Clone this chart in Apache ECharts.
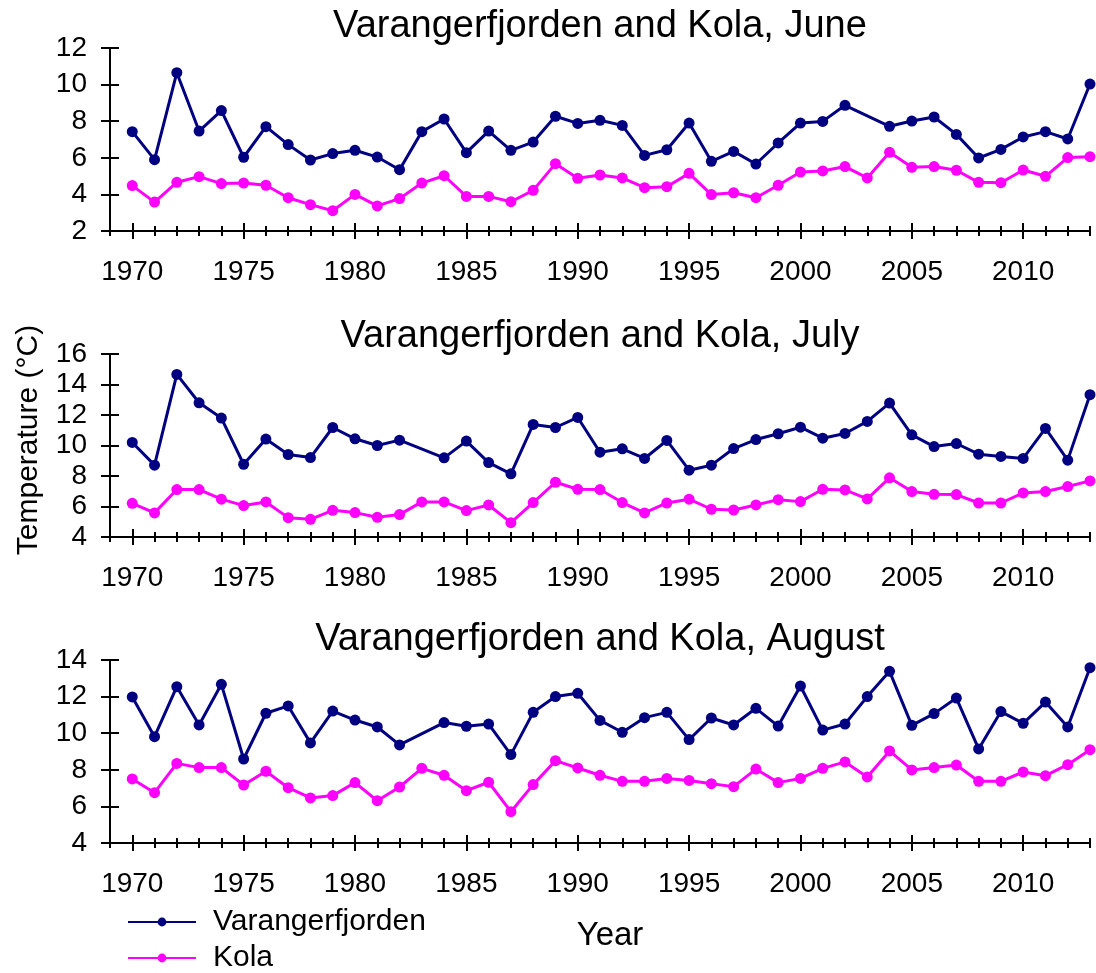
<!DOCTYPE html>
<html>
<head>
<meta charset="utf-8">
<script src="https://cdn.jsdelivr.net/npm/echarts@6/dist/echarts.min.js"></script>
<style>
html, body { margin: 0; padding: 0; background: #fff; }
#chart { width: 1096px; height: 973px; }
</style>
</head>
<body>
<div id="chart"></div>
<script>
// years shown on the plots, plus an empty slot for 1969 where the y axis sits
const years = [1970, 1971, 1972, 1973, 1974, 1975, 1976, 1977, 1978, 1979,
  1980, 1981, 1982, 1983, 1984, 1985, 1986, 1987, 1988, 1989,
  1990, 1991, 1992, 1993, 1994, 1995, 1996, 1997, 1998, 1999,
  2000, 2001, 2002, 2003, 2004, 2005, 2006, 2007, 2008, 2009,
  2010, 2011, 2012, 2013]
const axisYears = [1969].concat(years).map(String)

// June
const juneVarangerfjorden = [7.43, 5.90, 10.65, 7.46, 8.58, 6.03, 7.70, 6.72, 5.88, 6.23,
  6.41, 6.04, 5.35, 7.43, 8.12, 6.28, 7.46, 6.41, 6.86, 8.27,
  7.88, 8.05, 7.77, 6.13, 6.44, 7.90, 5.81, 6.35, 5.66, 6.81,
  7.90, 7.99, 8.87, null, 7.72, 8.01, 8.23, 7.28, 5.99, 6.46,
  7.14, 7.43, 7.03, 10.03]
const juneKola = [4.48, 3.58, 4.66, 4.97, 4.59, 4.62, 4.50, 3.82, 3.44, 3.11,
  4.00, 3.37, 3.77, 4.62, 5.02, 3.89, 3.89, 3.60, 4.22, 5.68,
  4.88, 5.06, 4.90, 4.37, 4.42, 5.15, 3.99, 4.09, 3.82, 4.50,
  5.22, 5.28, 5.52, 4.90, 6.30, 5.48, 5.52, 5.32, 4.66, 4.64,
  5.33, 4.99, 6.01, 6.06]

// July
const julyVarangerfjorden = [10.20, 8.71, 14.66, 12.80, 11.80, 8.77, 10.42, 9.41, 9.21, 11.18,
  10.44, 10.00, 10.35, null, 9.19, 10.29, 8.88, 8.14, 11.38, 11.18,
  11.84, 9.56, 9.78, 9.15, 10.33, 8.38, 8.71, 9.80, 10.39, 10.77,
  11.20, 10.48, 10.79, 11.58, 12.78, 10.70, 9.93, 10.13, 9.43, 9.28,
  9.15, 11.12, 9.04, 13.33]
const julyKola = [6.21, 5.58, 7.11, 7.11, 6.48, 6.06, 6.30, 5.27, 5.16, 5.75,
  5.60, 5.29, 5.47, 6.30, 6.30, 5.73, 6.10, 4.94, 6.26, 7.59,
  7.13, 7.11, 6.26, 5.58, 6.23, 6.48, 5.82, 5.77, 6.10, 6.45,
  6.32, 7.13, 7.09, 6.50, 7.88, 6.98, 6.80, 6.78, 6.23, 6.23,
  6.89, 6.98, 7.31, 7.68]

// August
const augustVarangerfjorden = [11.98, 9.81, 12.54, 10.45, 12.67, 8.59, 11.09, 11.49, 9.47, 11.21,
  10.72, 10.34, 9.36, null, 10.58, 10.38, 10.50, 8.83, 11.14, 12.00,
  12.18, 10.70, 10.05, 10.85, 11.14, 9.65, 10.83, 10.45, 11.36, 10.39,
  12.58, 10.17, 10.50, 12.00, 13.38, 10.43, 11.07, 11.92, 9.14, 11.18,
  10.54, 11.70, 10.34, 13.58]
const augustKola = [7.50, 6.75, 8.35, 8.12, 8.12, 7.17, 7.92, 7.02, 6.46, 6.59,
  7.30, 6.31, 7.06, 8.08, 7.70, 6.86, 7.32, 5.71, 7.19, 8.50,
  8.10, 7.70, 7.37, 7.37, 7.53, 7.42, 7.24, 7.08, 8.04, 7.30,
  7.53, 8.08, 8.43, 7.61, 9.03, 7.99, 8.12, 8.26, 7.37, 7.37,
  7.88, 7.68, 8.28, 9.10]

const font = '"Liberation Sans", Arial, sans-serif'
const navy = '#000080'
const magenta = '#ff00ff'
const black = { color: '#000', width: 2 }

const panels = [
  { title: 'Varangerfjorden and Kola, June', top: 48, titleY: 27, min: 2, max: 12, varanger: juneVarangerfjorden, kola: juneKola },
  { title: 'Varangerfjorden and Kola, July', top: 354, titleY: 337, min: 4, max: 16, varanger: julyVarangerfjorden, kola: julyKola },
  { title: 'Varangerfjorden and Kola, August', top: 660, titleY: 640, min: 4, max: 14, varanger: augustVarangerfjorden, kola: augustKola }
]

const isMajor = (i, v) => Number(v) % 5 === 0

// pairs of [year, value], missing years left out so the line joins across them
const toPairs = (vals) => years.map((y, i) => [String(y), vals[i]]).filter(d => d[1] != null)

const makeXAxes = (g) => {
  const base = {
    type: 'category', gridIndex: g, data: axisYears, boundaryGap: false, position: 'bottom',
    axisLine: { show: false, onZero: false }, axisLabel: { show: false }, splitLine: { show: false }
  }
  return [
    { ...base, axisLine: { show: true, onZero: false, lineStyle: black },
      axisTick: { show: true, interval: 0, length: 5, lineStyle: black } },
    { ...base, axisTick: { show: true, inside: true, interval: 0, length: 5, lineStyle: black } },
    { ...base, axisTick: { show: true, interval: isMajor, length: 8, lineStyle: black },
      axisLabel: { show: true, interval: isMajor, margin: 27, fontSize: 28, fontFamily: font, color: '#000' } },
    { ...base, axisTick: { show: true, inside: true, interval: isMajor, length: 8, lineStyle: black } }
  ]
}

const makeYAxes = (g, p) => {
  const base = { type: 'value', gridIndex: g, min: p.min, max: p.max, interval: 2, position: 'left', splitLine: { show: false } }
  return [
    { ...base, axisLine: { show: true, onZero: false, lineStyle: black },
      axisTick: { show: true, length: 9, lineStyle: black },
      axisLabel: { margin: 23, fontSize: 28, fontFamily: font, color: '#000' } },
    { ...base, axisLine: { show: false, onZero: false },
      axisTick: { show: true, inside: true, length: 9, lineStyle: black },
      axisLabel: { show: false } }
  ]
}

const makeSeries = (g, p) => [
  { name: 'Varangerfjorden', data: p.varanger, color: navy },
  { name: 'Kola', data: p.kola, color: magenta }
].map(s => ({
  name: s.name,
  type: 'line',
  xAxisIndex: g * 4,
  yAxisIndex: g * 2,
  data: toPairs(s.data),
  symbol: 'circle',
  symbolSize: 11,
  lineStyle: { color: s.color, width: 3 },
  itemStyle: { color: s.color }
}))

// one legend box per entry so they stack without wrapping
const makeLegend = (name, top) => ({
  orient: 'vertical',
  left: 127,
  top: top,
  padding: 0,
  itemWidth: 68,
  itemHeight: 11,
  data: [name],
  textStyle: { fontSize: 30, lineHeight: 30, fontFamily: font, color: '#000', padding: [0, 0, 0, 12] }
})

const chart = echarts.init(document.getElementById('chart'))

const option = {
  animation: false,
  backgroundColor: '#fff',
  grid: panels.map(p => ({ left: 110, width: 980, top: p.top, height: 183 })),
  xAxis: panels.flatMap((p, g) => makeXAxes(g)),
  yAxis: panels.flatMap((p, g) => makeYAxes(g, p)),
  series: panels.flatMap((p, g) => makeSeries(g, p)),
  legend: [makeLegend('Varangerfjorden', 907), makeLegend('Kola', 943)],
  graphic: panels.map(p => ({
    type: 'text', x: 600, y: p.titleY,
    style: { text: p.title, font: '38px ' + font, fill: '#000', align: 'center', verticalAlign: 'middle' }
  })).concat([
    {
      type: 'text', x: 29, y: 440, rotation: Math.PI / 2,
      style: { text: 'Temperature (°C)', font: '30px ' + font, fill: '#000', align: 'center', verticalAlign: 'middle' }
    },
    {
      type: 'text', x: 610, y: 936,
      style: { text: 'Year', font: '33px ' + font, fill: '#000', align: 'center', verticalAlign: 'middle' }
    }
  ])
}

option && chart.setOption(option)
</script>
</body>
</html>
